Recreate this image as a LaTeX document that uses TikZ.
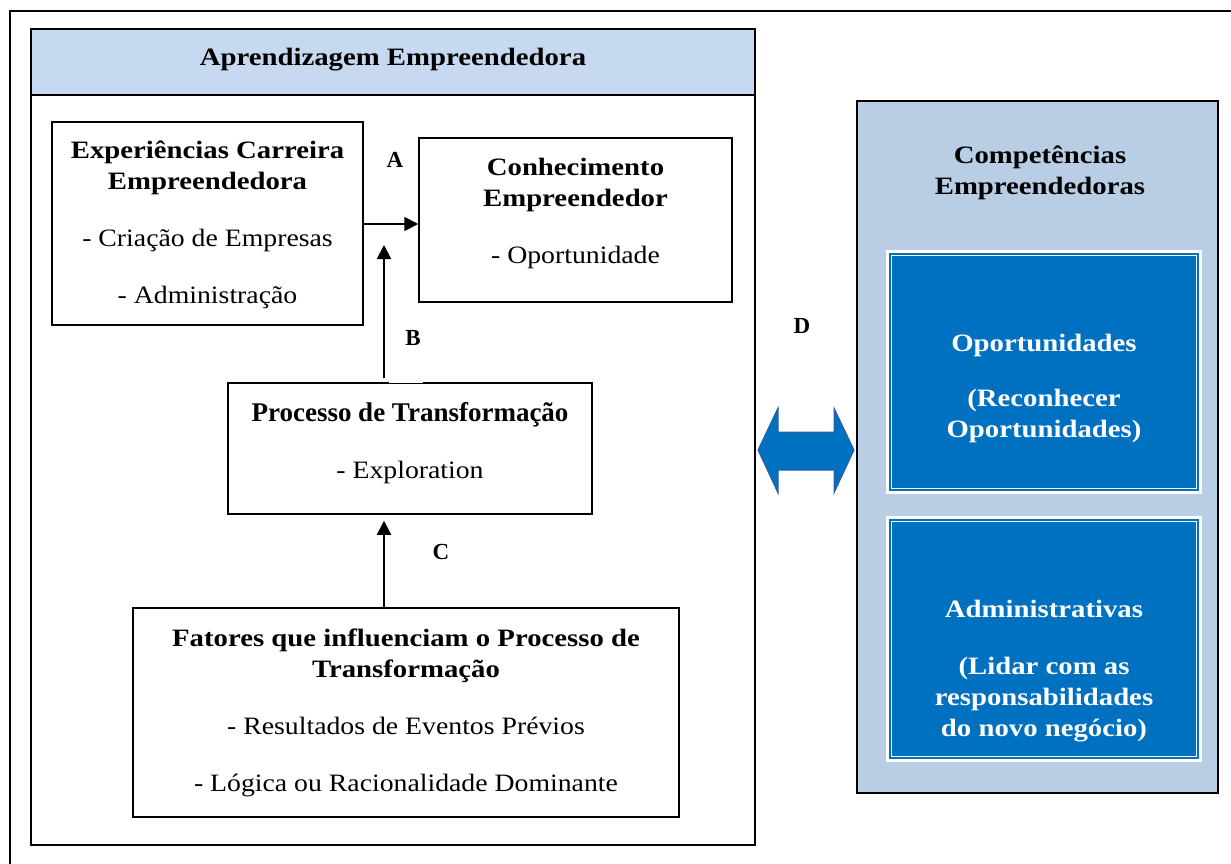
\documentclass[tikz,border=0pt]{standalone}
\usepackage{fontspec}
\setmainfont[FakeStretch=1.11]{Liberation Serif}
\newfontfamily\headfont[FakeStretch=1.15]{Liberation Serif Bold}
\newfontfamily\timesfont{Liberation Serif}
\newcommand\hd[1]{{\headfont #1}}
\usetikzlibrary{arrows.meta}
\definecolor{headblue}{HTML}{C6D9F1}
\definecolor{panelblue}{HTML}{B9CDE5}
\definecolor{darkblue}{HTML}{0070C0}
\definecolor{edgeblue}{HTML}{2E5E9E}

\begin{document}
\begin{tikzpicture}[x=1pt, y=-1pt, line width=1.5pt,
  txt/.style={font=\fontsize{25}{31}\selectfont, align=center},
  head/.style={font=\fontsize{25}{31}\selectfont\headfont, align=center},
  box/.style={draw, fill=white, txt, inner sep=0pt},
  lbl/.style={font=\fontsize{23}{27}\selectfont\timesfont\bfseries},
  arr/.style={line width=2pt, -{Triangle[length=14pt,width=14pt]}}]
	\useasboundingbox (0,0) rectangle (1231,864);
	\clip (0,0) rectangle (1231,864);
	\draw (10,11) rectangle (1250,880);
	% left panel
	\draw (31,29) rectangle (755,845);
	\draw[fill=headblue] (31,29) rectangle (755,95);
	\node[head] (title) at (393,60) {Aprendizagem Empreendedora};
	\node[box, minimum width=311, minimum height=203] (exp) at (207.5,223.5) {};
	\node[txt] (expT) at (207.5,225)
	  {\hd{Experiências Carreira}\\\hd{Empreendedora}\\[26pt]- Criação de Empresas\\[26pt]- Administração};
	\node[box, minimum width=313, minimum height=164] (conh) at (575.5,220) {};
	\node[txt] (conhT) at (575.5,213.5) {\hd{Conhecimento}\\\hd{Empreendedor}\\[26pt]- Oportunidade};
	\node[box, minimum width=364, minimum height=131] (proc) at (410,448.5) {};
	\node[txt] (procT) at (410,443)
	  {{\timesfont\bfseries\fontsize{27}{31}\selectfont Processo de Transformação}\\[26pt]- Exploration};
	\node[box, minimum width=546, minimum height=209] (fat) at (406,712.5)
	  {\hd{Fatores que influenciam o Processo de}\\\hd{Transformação}\\[26pt]- Resultados de Eventos Prévios\\[26pt]- Lógica ou Racionalidade Dominante};
	\coordinate (bTip) at (384,245);
	\draw[arr] ([yshift=-4]exp.east |- conh.west) -- ([yshift=-4]conh.west);
	\draw[arr] ([yshift=4]proc.north -| bTip) -- (bTip);
	\draw[white, line width=2pt] ([xshift=5]proc.north -| bTip) -- ++(34,0);
	\draw[arr, shorten >=6pt] (fat.north -| bTip) -- (proc.south -| bTip);
	\node[lbl] (labA) at (395,160) {A};
	\node[lbl] (labB) at (413,338) {B};
	\node[lbl] (labC) at (441,552) {C};
	\node[lbl] (labD) at (802,326) {D};
	% double arrow
	\draw[fill=darkblue, draw=edgeblue, line width=1pt] (758,450) -- (778,408) -- (778,432) -- (834,432) -- (834,408)
	  -- (854,450) -- (834,493) -- (834,470) -- (778,470) -- (778,493) -- cycle;
	% right panel
	\draw[fill=panelblue] (857,101) rectangle (1218,793);
	\node[head] (comp) at (1040,172.5) {Competências\\Empreendedoras};
	\foreach \ya/\yb/\nm in {250/494/opp, 516/762/adm} {
	  \fill[white] (886,\ya) rectangle (1202,\yb);
	  \fill[darkblue] (889,\ya+3) rectangle (1199,\yb-3);
	  \draw[white, line width=1pt] (891.5,\ya+5.5) rectangle (1196.5,\yb-5.5);
	  \coordinate (\nm) at (1044,{(\ya+\yb)/2});
	}
	\node[head, text=white] (oppT) at ([yshift=-16]opp)
	  {Oportunidades\\[24pt](Reconhecer\\Oportunidades)};
	\node[head, text=white] (admT) at ([yshift=-32]adm)
	  {Administrativas\\[26pt](Lidar com as\\responsabilidades\\do novo negócio)};
\end{tikzpicture}
\end{document}
